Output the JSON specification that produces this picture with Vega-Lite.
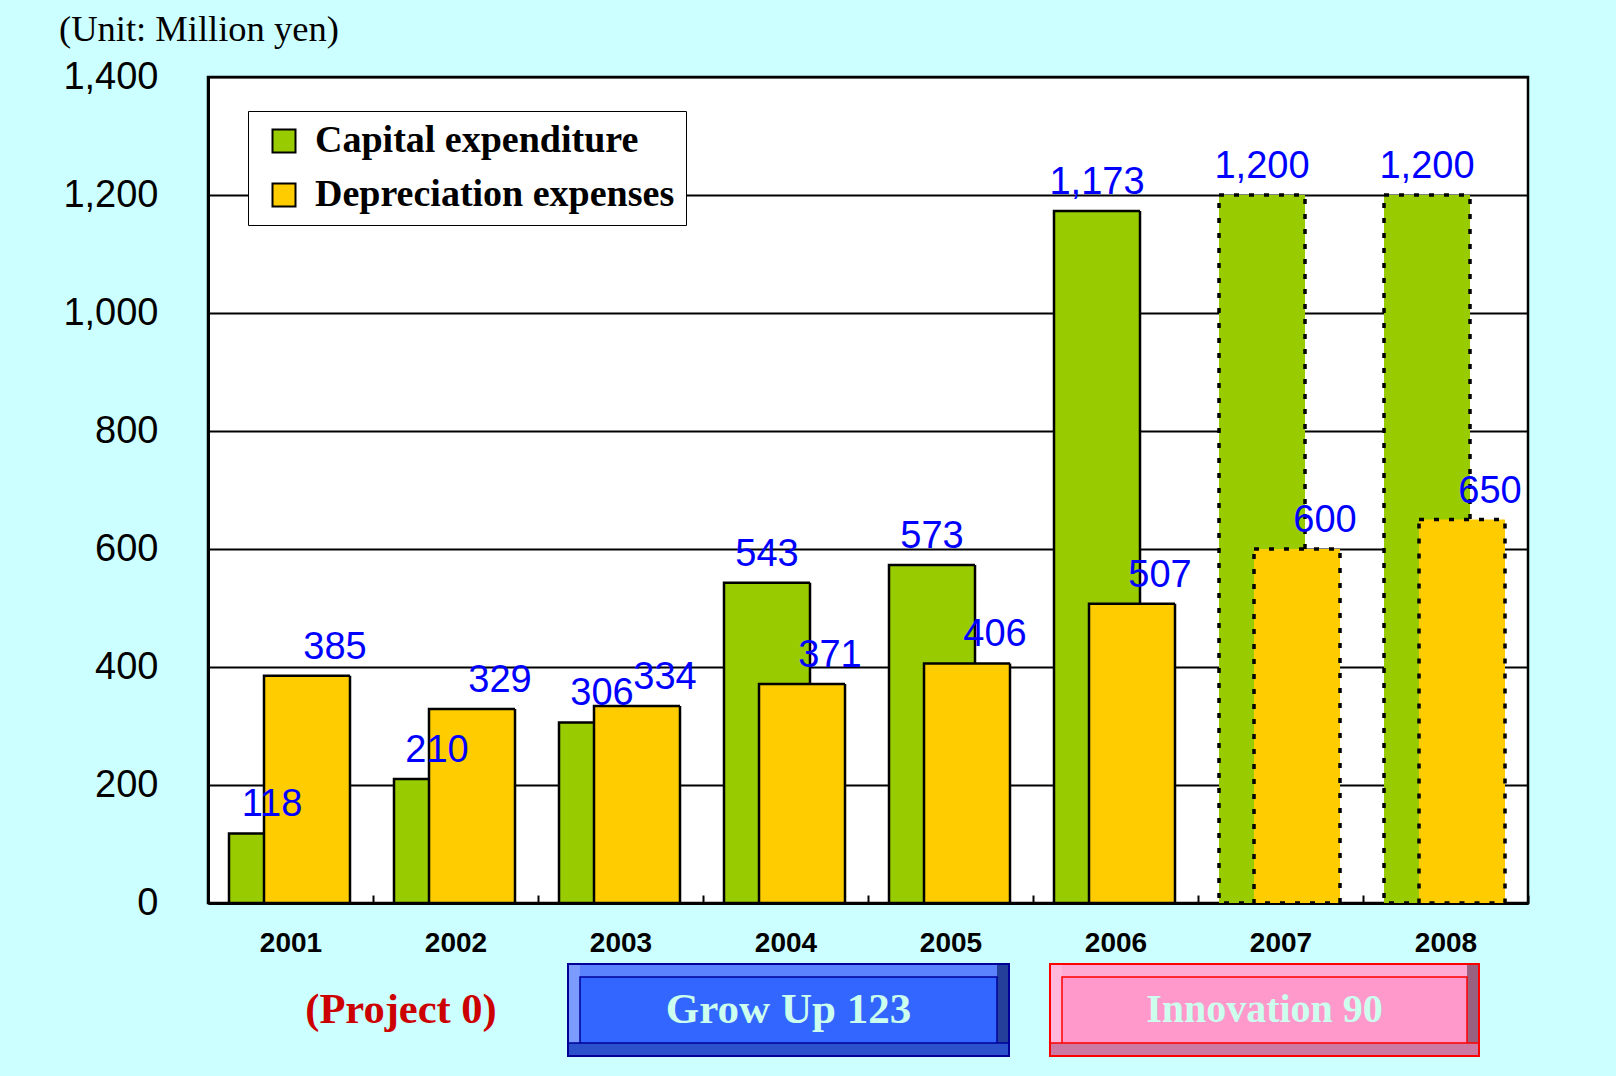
{
  "$schema": "https://vega.github.io/schema/vega-lite/v6.json",
  "background": "#ccffff",
  "padding": {"left": 57, "top": 10, "right": 90, "bottom": 20},
  "bounds": "flush",
  "spacing": 61,
  "vconcat": [
    {
      "width": 1320,
      "height": 826,
      "title": {"text": "(Unit: Million yen)", "anchor": "start", "frame": "group", "dx": -149, "offset": 10, "font": "Liberation Serif", "fontSize": 36.5, "fontWeight": "normal", "color": "black"},
      "view": {"fill": "white", "stroke": "black", "strokeWidth": 2.5},
      "data": {"values": [
        {"year": "2001", "series": "Capital expenditure", "value": 118, "status": "actual"},
        {"year": "2001", "series": "Depreciation expenses", "value": 385, "status": "actual"},
        {"year": "2002", "series": "Capital expenditure", "value": 210, "status": "actual"},
        {"year": "2002", "series": "Depreciation expenses", "value": 329, "status": "actual"},
        {"year": "2003", "series": "Capital expenditure", "value": 306, "status": "actual"},
        {"year": "2003", "series": "Depreciation expenses", "value": 334, "status": "actual"},
        {"year": "2004", "series": "Capital expenditure", "value": 543, "status": "actual"},
        {"year": "2004", "series": "Depreciation expenses", "value": 371, "status": "actual"},
        {"year": "2005", "series": "Capital expenditure", "value": 573, "status": "actual"},
        {"year": "2005", "series": "Depreciation expenses", "value": 406, "status": "actual"},
        {"year": "2006", "series": "Capital expenditure", "value": 1173, "status": "actual"},
        {"year": "2006", "series": "Depreciation expenses", "value": 507, "status": "actual"},
        {"year": "2007", "series": "Capital expenditure", "value": 1200, "status": "plan"},
        {"year": "2007", "series": "Depreciation expenses", "value": 600, "status": "plan"},
        {"year": "2008", "series": "Capital expenditure", "value": 1200, "status": "plan"},
        {"year": "2008", "series": "Depreciation expenses", "value": 650, "status": "plan"}
      ]},
      "encoding": {
        "x": {"field": "year", "type": "nominal", "title": null,
          "scale": {"paddingInner": 0, "paddingOuter": 0},
          "axis": {"labelFont": "Liberation Sans", "labelFontSize": 28, "labelFontWeight": "bold", "labelColor": "black", "labelPadding": 34, "labelAngle": 0, "tickBand": "extent", "ticks": true, "tickColor": "black", "tickWidth": 2, "tickSize": -8, "domainColor": "black", "domainWidth": 3, "grid": false}},
        "y": {"field": "value", "type": "quantitative", "title": null, "stack": null,
          "scale": {"domain": [0, 1400], "nice": false},
          "axis": {"values": [0, 200, 400, 600, 800, 1000, 1200, 1400], "format": ",.0f", "labelFont": "Liberation Sans", "labelFontSize": 38, "labelColor": "black", "labelPadding": 50, "ticks": false, "domainColor": "black", "domainWidth": 3, "grid": true, "gridColor": "black", "gridWidth": 2, "gridOpacity": 1}}
      },
      "layer": [
        {
          "transform": [{"filter": "datum.series === 'Capital expenditure'"}],
          "mark": {"type": "bar", "width": 86, "xOffset": -18.5, "stroke": "black"},
          "encoding": {
            "fill": {"field": "series", "type": "nominal", "scale": {"domain": ["Capital expenditure", "Depreciation expenses"], "range": ["#99cc00", "#ffcc00"]},
              "legend": {"orient": "none", "legendX": 40, "legendY": 34, "title": null, "fillColor": "white", "strokeColor": "black", "padding": 11, "symbolOffset": 6, "symbolType": "square", "symbolSize": 529, "symbolStrokeColor": "black", "symbolStrokeWidth": 2, "symbolOpacity": 1, "labelFont": "Liberation Serif", "labelFontSize": 38, "labelFontWeight": "bold", "labelColor": "black", "labelOffset": 12, "rowPadding": 16, "labelLimit": 700}},
            "strokeDash": {"field": "status", "type": "nominal", "scale": {"domain": ["actual", "plan"], "range": [[1, 0], [5, 10]]}, "legend": null},
            "strokeWidth": {"field": "status", "type": "nominal", "scale": {"domain": ["actual", "plan"], "range": [2.5, 3.5]}, "legend": null}
          }
        },
        {
          "transform": [{"filter": "datum.series === 'Depreciation expenses'"}],
          "mark": {"type": "bar", "width": 86, "xOffset": 16.5, "stroke": "black"},
          "encoding": {
            "fill": {"field": "series", "type": "nominal"},
            "strokeDash": {"field": "status", "type": "nominal", "legend": null},
            "strokeWidth": {"field": "status", "type": "nominal", "legend": null}
          }
        },
        {
          "transform": [{"filter": "datum.series === 'Capital expenditure'"}],
          "mark": {"type": "text", "xOffset": -18.5, "dy": -17, "baseline": "alphabetic", "align": "center", "font": "Liberation Sans", "fontSize": 38, "color": "#0000ff"},
          "encoding": {"text": {"field": "value", "type": "quantitative", "format": ",.0f"}}
        },
        {
          "transform": [{"filter": "datum.series === 'Depreciation expenses'"}],
          "mark": {"type": "text", "xOffset": 44.5, "dy": -17, "baseline": "alphabetic", "align": "center", "font": "Liberation Sans", "fontSize": 38, "color": "#0000ff"},
          "encoding": {"text": {"field": "value", "type": "quantitative", "format": ",.0f"}}
        }
      ]
    },
    {
      "width": 1320,
      "height": 92,
      "view": {"fill": null, "stroke": null},
      "data": {"values": [
        {"project": "(Project 0)", "from": "2001", "to": "2002"},
        {"project": "Grow Up 123", "from": "2003", "to": "2005"},
        {"project": "Innovation 90", "from": "2006", "to": "2008"}
      ]},
      "layer": [
        {
          "transform": [{"filter": "datum.project === '(Project 0)'"}],
          "mark": {"type": "text", "dx": 28, "font": "Liberation Serif", "fontSize": 42.5, "fontWeight": "bold", "color": "#cc0000", "baseline": "middle", "align": "center"},
          "encoding": {
            "x": {"field": "to", "type": "nominal", "bandPosition": 0, "scale": {"domain": ["2001", "2002", "2003", "2004", "2005", "2006", "2007", "2008"], "paddingInner": 0, "paddingOuter": 0}, "axis": null},
            "text": {"field": "project"}
          }
        },
        {
          "transform": [{"filter": "datum.project === 'Grow Up 123'"}],
          "encoding": {
            "x": {"field": "from", "type": "nominal", "axis": null},
            "x2": {"field": "to"}
          },
          "layer": [
            {"mark": {"type": "rect", "xOffset": -52.5, "x2Offset": 58.5, "fill": "#5b82ff"}},
            {"mark": {"type": "rect", "xOffset": -52.5, "x2Offset": -40.5, "fill": "#7b9bff"}, "encoding": {"x": {"field": "from", "type": "nominal"}, "x2": {"field": "from"}}},
            {"mark": {"type": "rect", "xOffset": 46.5, "x2Offset": 58.5, "fill": "#233f99"}, "encoding": {"x": {"field": "to", "type": "nominal"}, "x2": {"field": "to"}}},
            {"mark": {"type": "rect", "xOffset": -40.5, "x2Offset": 46.5, "yOffset": 13, "fill": "#3366ff", "stroke": "#000099", "strokeWidth": 1.5}},
            {"mark": {"type": "rect", "xOffset": -52.5, "x2Offset": 58.5, "yOffset": 79, "fill": "#2b52cc", "stroke": "#000099", "strokeWidth": 1.5}},
            {"mark": {"type": "rect", "xOffset": -52.5, "x2Offset": 58.5, "fillOpacity": 0, "stroke": "#000099", "strokeWidth": 2}}
          ]
        },
        {
          "transform": [{"filter": "datum.project === 'Grow Up 123'"}],
          "mark": {"type": "text", "dx": 168, "font": "Liberation Serif", "fontSize": 43, "fontWeight": "bold", "color": "#ccffee", "baseline": "middle", "align": "center"},
          "encoding": {"x": {"field": "from", "type": "nominal", "axis": null}, "text": {"field": "project"}}
        },
        {
          "transform": [{"filter": "datum.project === 'Innovation 90'"}],
          "encoding": {
            "x": {"field": "from", "type": "nominal", "axis": null},
            "x2": {"field": "to"}
          },
          "layer": [
            {"mark": {"type": "rect", "xOffset": -65.5, "x2Offset": 33.5, "fill": "#ffaad4"}},
            {"mark": {"type": "rect", "xOffset": -65.5, "x2Offset": -53.5, "fill": "#ffb8dc"}, "encoding": {"x": {"field": "from", "type": "nominal"}, "x2": {"field": "from"}}},
            {"mark": {"type": "rect", "xOffset": 21.5, "x2Offset": 33.5, "fill": "#99607f"}, "encoding": {"x": {"field": "to", "type": "nominal"}, "x2": {"field": "to"}}},
            {"mark": {"type": "rect", "xOffset": -53.5, "x2Offset": 21.5, "yOffset": 13, "fill": "#ff99cc", "stroke": "#ff0000", "strokeWidth": 1.5}},
            {"mark": {"type": "rect", "xOffset": -65.5, "x2Offset": 33.5, "yOffset": 79, "fill": "#cc7aa3", "stroke": "#ff0000", "strokeWidth": 1.5}},
            {"mark": {"type": "rect", "xOffset": -65.5, "x2Offset": 33.5, "fillOpacity": 0, "stroke": "#ff0000", "strokeWidth": 2}}
          ]
        },
        {
          "transform": [{"filter": "datum.project === 'Innovation 90'"}],
          "mark": {"type": "text", "dx": 149, "font": "Liberation Serif", "fontSize": 40, "fontWeight": "bold", "color": "#ccffee", "baseline": "middle", "align": "center"},
          "encoding": {"x": {"field": "from", "type": "nominal", "axis": null}, "text": {"field": "project"}}
        }
      ]
    }
  ]
}
